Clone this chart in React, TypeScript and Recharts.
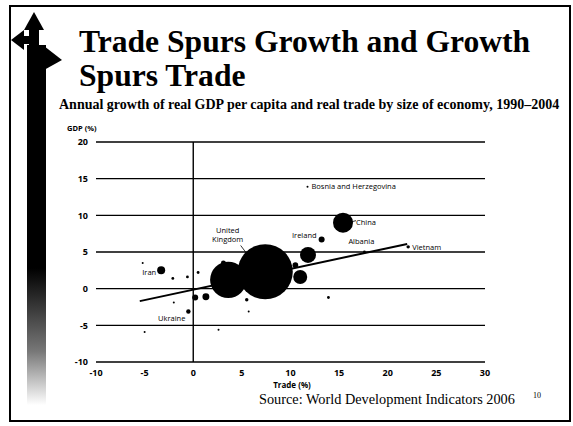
import React from 'react';
import {
  ScatterChart,
  Scatter,
  XAxis,
  YAxis,
  ZAxis,
  CartesianGrid,
  ReferenceLine,
} from 'recharts';

// Trade growth (%), GDP per capita growth (%), size of economy (bubble area units)
const countryNames = [
  'United States', 'Japan', 'United Kingdom', 'Germany', 'France',
  'China', 'Ireland', 'Vietnam', 'Albania', 'Bosnia and Herzegovina',
  'Iran', 'Ukraine', 'Korea', 'Canada', 'Italy', 'Spain',
  'a1', 'a2', 'a3', 'a4', 'a5', 'a6', 'a7', 'a8', 'a9', 'a10', 'a11', 'a12',
];
const tradeGrowth = [
  7.4, 3.6, 5.8, 9.0, 11.0,
  15.4, 13.2, 22.1, 17.6, 11.75,
  -3.3, -0.5, 11.8, 10.5, 3.1, 3.8,
  -2.1, -0.6, 0.5, -2.0, -5.0, 0.2, 1.3, 2.6, 13.9, 5.7, 5.5, -5.2,
];
const gdpGrowth = [
  2.3, 1.2, 3.3, 1.6, 1.6,
  9.0, 6.7, 5.7, 5.0, 13.9,
  2.5, -3.1, 4.6, 3.2, 3.5, 3.3,
  1.4, 1.6, 2.2, -1.9, -5.9, -1.2, -1.1, -5.6, -1.2, -3.1, -1.5, 3.5,
];
const economySize = [
  760, 330, 60, 60, 49,
  100, 9, 3, 2, 1,
  16, 5, 64, 8, 6, 3,
  2, 2, 2, 1, 1, 9, 12, 1, 2, 1, 3, 1,
];

const xTicks = [-10, -5, 0, 5, 10, 15, 20, 25, 30];
const yTicks = [-10, -5, 0, 5, 10, 15, 20];

// fitted trend: start and end (trade %, GDP %)
const trendTrade = [-5.5, 22];
const trendGdp = [-1.7, 6.1];

const data = countryNames.map((name, i) => ({
  name,
  trade: tradeGrowth[i],
  gdp: gdpGrowth[i],
  size: economySize[i],
}));

// label placement relative to each labelled point (pixels)
const LABELS: Record<string, { text: string[]; dx: number; dy: number; anchor: string; leader?: number[] }> = {
  'Bosnia and Herzegovina': { text: ['Bosnia and Herzegovina'], dx: 4, dy: 2.5, anchor: 'start' },
  China: { text: ['China'], dx: 13, dy: 2, anchor: 'start', leader: [9, -1, 13, -2] },
  Ireland: { text: ['Ireland'], dx: -5, dy: -2, anchor: 'end' },
  Albania: { text: ['Albania'], dx: -3, dy: -8, anchor: 'middle' },
  Vietnam: { text: ['Vietnam'], dx: 4, dy: 3, anchor: 'start' },
  'United Kingdom': { text: ['United', 'Kingdom'], dx: -22, dy: -31, anchor: 'middle', leader: [-9, -19, -3, -11] },
  Iran: { text: ['Iran'], dx: -5, dy: 5, anchor: 'end' },
  Ukraine: { text: ['Ukraine'], dx: -3, dy: 10, anchor: 'end' },
};

const tickStyle = { fill: '#000', fontSize: 9, fontWeight: 700, fontFamily: 'Open Sans, sans-serif' };

function CountryLabel(props: any) {
  const { cx, cy, payload } = props;
  const lab = LABELS[payload.name];
  if (!lab) return <g />;
  return (
    <g>
      {lab.leader && (
        <line
          x1={cx + lab.leader[0]}
          y1={cy + lab.leader[1]}
          x2={cx + lab.leader[2]}
          y2={cy + lab.leader[3]}
          stroke="#000"
          strokeWidth={0.8}
        />
      )}
      {lab.text.map((t, i) => (
        <text
          key={t}
          x={cx + lab.dx}
          y={cy + lab.dy + i * 9}
          textAnchor={lab.anchor}
          fontSize={7.5}
          fontFamily="Open Sans, sans-serif"
          fill="#000"
        >
          {t}
        </text>
      ))}
    </g>
  );
}

function Decoration() {
  return (
    <svg width={573} height={426} style={{ position: 'absolute', left: 0, top: 0 }}>
      <defs>
        <linearGradient id="fade" x1="0" y1="0" x2="0" y2="1">
          <stop offset="0" stopColor="#000" />
          <stop offset="0.62" stopColor="#000" />
          <stop offset="0.85" stopColor="#777" />
          <stop offset="1" stopColor="#fff" />
        </linearGradient>
      </defs>
      <rect x={10} y={6} width={560} height={415} fill="none" stroke="#000" strokeWidth={2} />
      {/* up arrow */}
      <polygon points="34,12 44,30 24,30" fill="#000" />
      <rect x={29} y={29} width={10} height={20} fill="#000" />
      {/* left arrow */}
      <polygon points="11,40 24,30 24,50" fill="#000" />
      <rect x={23} y={36} width={10} height={8} fill="#000" />
      {/* right notch */}
      <polygon points="44,46 62,60 44,70" fill="#000" />
      <rect x={27} y={45} width={19} height={360} fill="url(#fade)" />
      <text x={79} y={52} fontFamily="Liberation Serif, serif" fontWeight={700} fontSize={31.6} fill="#000">
        Trade Spurs Growth and Growth
      </text>
      <text x={79} y={86} fontFamily="Liberation Serif, serif" fontWeight={700} fontSize={31.6} fill="#000">
        Spurs Trade
      </text>
      <text x={59} y={109} fontFamily="Liberation Serif, serif" fontWeight={700} fontSize={14} fill="#000">
        Annual growth of real GDP per capita and real trade by size of economy, 1990–2004
      </text>
      <text x={67} y={131} fontFamily="Open Sans, sans-serif" fontWeight={700} fontSize={7.5} fill="#000">
        GDP (%)
      </text>
      <text x={292} y={388} textAnchor="middle" fontFamily="Open Sans, sans-serif" fontWeight={700} fontSize={8} fill="#000">
        Trade (%)
      </text>
      <text x={259} y={404} fontFamily="Liberation Serif, serif" fontSize={14.3} fill="#000">
        Source: World Development Indicators 2006
      </text>
      <text x={533} y={398} fontFamily="Liberation Serif, serif" fontSize={8} fill="#000">
        10
      </text>
    </svg>
  );
}

export default function App() {
  return (
    <div style={{ position: 'absolute', left: 0, top: 0, width: 573, height: 426, background: '#fff' }}>
      <Decoration />
      <div style={{ position: 'absolute', left: 0, top: 0 }}>
        <ScatterChart
          width={573}
          height={426}
          margin={{ top: 142, right: 88, bottom: 44, left: 66 }}
        >
          <CartesianGrid horizontal vertical={false} stroke="#000" strokeWidth={1.4} strokeOpacity={1} />
          <XAxis
            type="number"
            dataKey="trade"
            domain={[-10, 30]}
            ticks={xTicks}
            tick={tickStyle}
            tickLine={false}
            axisLine={false}
            height={20}
            interval={0}
          />
          <YAxis
            type="number"
            dataKey="gdp"
            domain={[-10, 20]}
            ticks={yTicks}
            tick={tickStyle}
            tickLine={false}
            axisLine={false}
            width={30}
            interval={0}
          />
          <ZAxis type="number" dataKey="size" domain={[0, 1000]} range={[0, 3142]} />
          <ReferenceLine x={0} stroke="#000" strokeWidth={1.4} />
          <ReferenceLine
            segment={[
              { x: trendTrade[0], y: trendGdp[0] },
              { x: trendTrade[1], y: trendGdp[1] },
            ]}
            stroke="#000"
            strokeWidth={2}
          />
          <Scatter data={data} fill="#000" isAnimationActive={false} />
          <Scatter
            data={data.filter((d) => LABELS[d.name])}
            fill="#000"
            shape={CountryLabel}
            isAnimationActive={false}
          />
        </ScatterChart>
      </div>
    </div>
  );
}
